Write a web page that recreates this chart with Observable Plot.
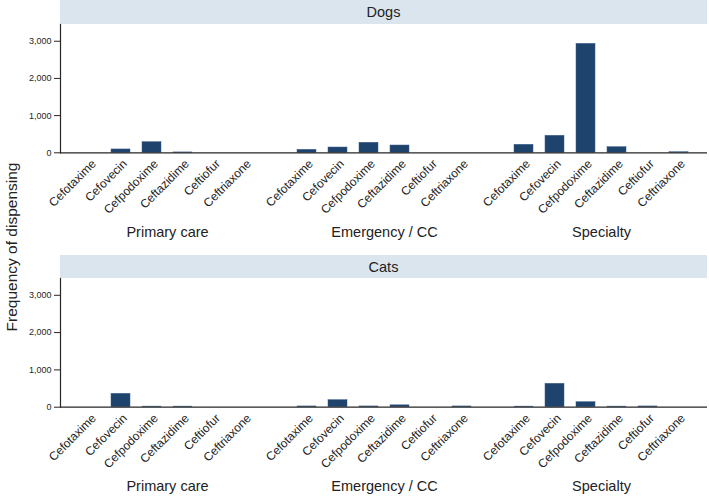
<!DOCTYPE html>
<html>
<head>
<meta charset="utf-8">
<script src="https://cdn.jsdelivr.net/npm/d3@7"></script>
<script src="https://cdn.jsdelivr.net/npm/@observablehq/plot@0.6"></script>
<style>
  html, body { margin: 0; padding: 0; background: #fff; }
  #wrap { position: relative; width: 709px; height: 497px; font-family: "Liberation Sans", Arial, sans-serif; color: #222; }
  .panel { position: absolute; left: 0; }
  .strip { position: absolute; left: 60px; width: 647px; background: #dae5ed; font-size: 14.5px; display: flex; align-items: center; justify-content: center; color: #222; }
  #ylabel { position: absolute; left: 12px; top: 247px; transform: translate(-50%, -50%) rotate(-90deg); white-space: nowrap; font-size: 15.5px; color: #222; }
</style>
</head>
<body>
<div id="wrap">
  <div class="strip" style="top:0px;height:24px;">Dogs</div>
  <div class="strip" style="top:255px;height:23px;">Cats</div>
  <div class="panel" id="p0" style="top:0px"></div>
  <div class="panel" id="p1" style="top:250px"></div>
  <div id="ylabel">Frequency of dispensing</div>
</div>
<script>
// ---- data ----
const species = ["Dogs", "Cats"];
const groups = ["Primary care", "Emergency / CC", "Specialty"];
const drugs = ["Cefotaxime", "Cefovecin", "Cefpodoxime", "Ceftazidime", "Ceftiofur", "Ceftriaxone"];
const yTicks = [0, 1000, 2000, 3000];

// values in order of drugs, per group
const dogsPrimary   = [0, 90, 285, 10, 0, 0];
const dogsEmergency = [80, 142, 270, 196, 0, 0];
const dogsSpecialty = [215, 457, 2930, 150, 0, 15];
const catsPrimary   = [0, 358, 15, 15, 0, 0];
const catsEmergency = [20, 188, 20, 50, 0, 20];
const catsSpecialty = [15, 627, 134, 15, 20, 0];

const values = {
  Dogs: [dogsPrimary, dogsEmergency, dogsSpecialty],
  Cats: [catsPrimary, catsEmergency, catsSpecialty]
};

// ---- build table ----
const keyOf = (g, d) => g + "|" + d;
const xDomain = [];
groups.forEach((g, i) => {
  if (i > 0) xDomain.push("gap" + i);
  drugs.forEach(d => xDomain.push(keyOf(g, d)));
});

function rows(sp) {
  const out = [];
  groups.forEach((g, gi) => drugs.forEach((d, di) => out.push({species: sp, group: g, drug: d, key: keyOf(g, d), value: values[sp][gi][di]})));
  return out;
}

const barColor = "#1e436d";
const ink = "#262626";
const fmt = d3.format(",");

function panel(sp, opts) {
  return Plot.plot({
    width: 709,
    height: opts.height,
    marginTop: opts.marginTop,
    marginBottom: opts.marginBottom,
    marginLeft: 60,
    marginRight: 2,
    style: {fontFamily: "'Liberation Sans', Arial, sans-serif", color: "#222", background: "transparent", overflow: "visible"},
    x: {domain: xDomain, paddingInner: 0.39, paddingOuter: 0.63, axis: null},
    y: {domain: [0, 3450], axis: null},
    marks: [
      Plot.frame({anchor: "left", stroke: ink, strokeWidth: 1.2}),
      Plot.axisY(yTicks, {tickFormat: fmt, tickSize: 6, tickPadding: 3, fontSize: 9, label: null, stroke: ink, fill: ink}),
      Plot.barY(rows(sp), {x: "key", y: "value", fill: barColor, stroke: "#3a5f8a", strokeWidth: 0.5}),
      Plot.ruleY([0], {stroke: ink, strokeWidth: 1.2}),
      Plot.axisX({tickRotate: -45, tickSize: 0, tickPadding: 9, dx: 4, fontSize: 12, label: null, fill: "#222",
        tickFormat: d => d.includes("|") ? d.split("|")[1] : ""}),
      Plot.text(groups, {x: g => keyOf(g, "Cefpodoxime"), frameAnchor: "bottom", dx: 15.5, dy: 84, fontSize: 14.5, fill: "#222", text: d => d})
    ]
  });
}

document.getElementById("p0").appendChild(panel("Dogs", {height: 250, marginTop: 24, marginBottom: 97.7}));
document.getElementById("p1").appendChild(panel("Cats", {height: 247, marginTop: 28, marginBottom: 90.3}));
</script>
</body>
</html>
